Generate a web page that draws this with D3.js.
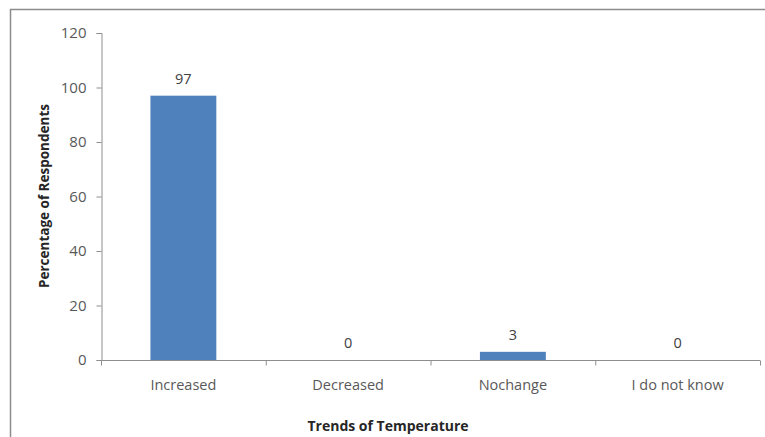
<!DOCTYPE html>
<html>
<head>
<meta charset="utf-8">
<script src="https://cdn.jsdelivr.net/npm/d3@7"></script>
<style>
  html, body { margin: 0; padding: 0; background: #fff; }
  svg { display: block; }
  text { font-family: "Open Sans", "Liberation Sans", sans-serif; }
</style>
</head>
<body>
<svg id="chart" width="765" height="437"></svg>
<script>
// Survey responses: perceived trend of temperature
const categories = ["Increased", "Decreased", "Nochange", "I do not know"];
const percentages = [97, 0, 3, 0];
const yTicks = [0, 20, 40, 60, 80, 100, 120];

const svg = d3.select("#chart");
const W = 765, H = 437;
const margin = { left: 101, right: 5, top: 33, bottom: 77 };

// Chart frame (top and left edges)
svg.append("path")
  .attr("d", `M10.5,${H}V9.5H${W}`)
  .attr("fill", "none")
  .attr("stroke", "#8c8c8c").attr("stroke-width", 1.5);

const x = d3.scaleBand()
  .domain(categories)
  .range([margin.left, W - margin.right])
  .paddingInner(0.6).paddingOuter(0.3);

const y = d3.scaleLinear()
  .domain([0, 120])
  .range([H - margin.bottom, margin.top]);

const axisColor = "#8e8e8e";
const textColor = "#595959";

// Y axis
const yAxis = svg.append("g")
  .attr("transform", `translate(${margin.left + 0.5},0)`)
  .call(d3.axisLeft(y).tickValues(yTicks).tickSize(5).tickPadding(10));
yAxis.select(".domain").attr("stroke", axisColor);
yAxis.selectAll(".tick line").attr("stroke", axisColor);
yAxis.selectAll(".tick text")
  .attr("fill", textColor).style("font-size", "15px");

// Bars
svg.append("g").selectAll("rect")
  .data(percentages)
  .join("rect")
  .attr("x", (d, i) => x(categories[i]))
  .attr("y", d => y(d))
  .attr("width", x.bandwidth())
  .attr("height", d => y(0) - y(d))
  .attr("fill", "#4f81bd");

// X axis with ticks at band boundaries
const x0 = y(0) + 0.5;
const step = x.step();
const edges = d3.range(categories.length + 1).map(i => margin.left + i * step);
svg.append("line")
  .attr("x1", margin.left).attr("x2", W - margin.right)
  .attr("y1", x0).attr("y2", x0)
  .attr("stroke", axisColor);
svg.append("g").selectAll("line")
  .data(edges)
  .join("line")
  .attr("x1", d => d + 0.5).attr("x2", d => d + 0.5)
  .attr("y1", x0).attr("y2", x0 + 5)
  .attr("stroke", axisColor);

svg.append("g").selectAll("text")
  .data(categories)
  .join("text")
  .attr("x", d => x(d) + x.bandwidth() / 2)
  .attr("y", y(0) + 30)
  .attr("text-anchor", "middle")
  .attr("fill", textColor)
  .style("font-size", "14.5px")
  .text(d => d);

// Value labels
svg.append("g").selectAll("text")
  .data(percentages)
  .join("text")
  .attr("x", (d, i) => x(categories[i]) + x.bandwidth() / 2)
  .attr("y", d => y(d) - 12)
  .attr("text-anchor", "middle")
  .attr("fill", "#404040")
  .style("font-size", "14.5px")
  .text(d => d);

// Axis titles
svg.append("text")
  .attr("x", 388).attr("y", 431)
  .attr("text-anchor", "middle")
  .attr("fill", "#262626")
  .style("font-size", "14px").style("font-weight", "bold")
  .text("Trends of Temperature");

svg.append("text")
  .attr("transform", `translate(49,196) rotate(-90)`)
  .attr("text-anchor", "middle")
  .attr("fill", "#262626")
  .style("font-size", "13.5px").style("font-weight", "bold")
  .text("Percentage of Respondents");
</script>
</body>
</html>
